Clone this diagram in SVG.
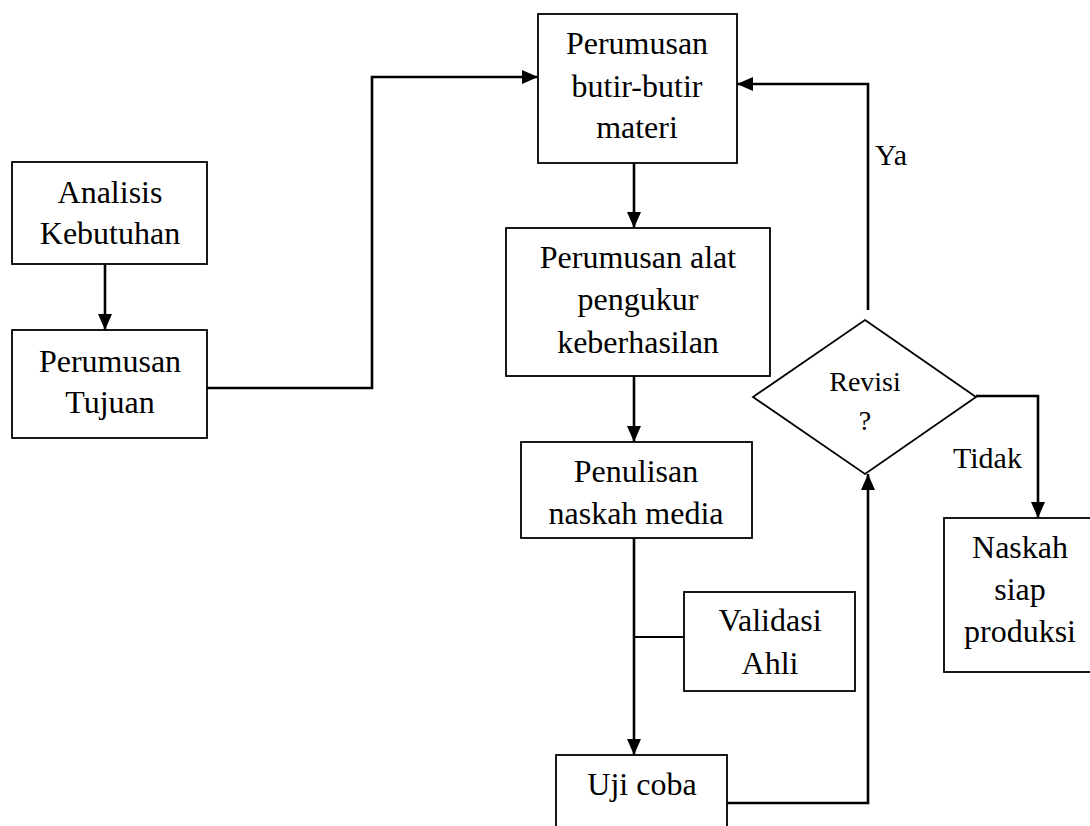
<svg xmlns="http://www.w3.org/2000/svg" width="1090" height="826" viewBox="0 0 1090 826">
<style>
.box{fill:#fff;stroke:#000;stroke-width:1.8}
.t{font-family:"Liberation Serif","Times New Roman",serif;font-size:32px;fill:#000;text-anchor:middle}
.lbl{font-family:"Liberation Serif","Times New Roman",serif;font-size:30px;fill:#000}
.c{fill:none;stroke:#000;stroke-width:2.6}
.thin{fill:none;stroke:#000;stroke-width:1.8}
</style>
<defs>
<marker id="arr" markerUnits="userSpaceOnUse" markerWidth="16" markerHeight="16" viewBox="0 0 16 16" refX="16" refY="8" orient="auto">
<path d="M0,1 L16,8 L0,15 Z" fill="#000"/>
</marker>
</defs>
<rect width="1090" height="826" fill="#fff"/>
<g id="connectors">
<path class="c" d="M105,264 V330" marker-end="url(#arr)"/>
<path class="c" d="M207,388 H372 V77 H538" marker-end="url(#arr)"/>
<path class="c" d="M634,163 V228" marker-end="url(#arr)"/>
<path class="c" d="M634,376 V442" marker-end="url(#arr)"/>
<path class="c" d="M634,538 V755" marker-end="url(#arr)"/>
<path class="thin" d="M634,637 H684"/>
<path class="c" d="M727,803 H868 V474" marker-end="url(#arr)"/>
<path class="c" d="M868,310 V84 H737" marker-end="url(#arr)"/>
<path class="c" d="M976,396 H1038 V518" marker-end="url(#arr)"/>
<text class="lbl" x="875" y="165">Ya</text>
<text class="lbl" x="953" y="468">Tidak</text>
</g>
<g id="analisis">
<rect class="box" x="12" y="162" width="195" height="102"/>
<text class="t" x="110" y="203">Analisis</text>
<text class="t" x="110" y="244">Kebutuhan</text>
</g>
<g id="tujuan">
<rect class="box" x="12" y="330" width="195" height="108"/>
<text class="t" x="110" y="372">Perumusan</text>
<text class="t" x="110" y="413">Tujuan</text>
</g>
<g id="butir">
<rect class="box" x="538" y="14" width="199" height="149"/>
<text class="t" x="637" y="54">Perumusan</text>
<text class="t" x="637" y="97">butir-butir</text>
<text class="t" x="637" y="138">materi</text>
</g>
<g id="alat">
<rect class="box" x="506" y="228" width="264" height="148"/>
<text class="t" x="638" y="268">Perumusan alat</text>
<text class="t" x="638" y="310">pengukur</text>
<text class="t" x="638" y="353">keberhasilan</text>
</g>
<g id="penulisan">
<rect class="box" x="521" y="442" width="231" height="96"/>
<text class="t" x="636" y="482">Penulisan</text>
<text class="t" x="636" y="524">naskah media</text>
</g>
<g id="validasi">
<rect class="box" x="684" y="592" width="171" height="99"/>
<text class="t" x="770" y="631">Validasi</text>
<text class="t" x="770" y="674">Ahli</text>
</g>
<g id="ujicoba">
<rect class="box" x="556" y="755" width="171" height="90"/>
<text class="t" x="642" y="795">Uji coba</text>
</g>
<g id="revisi">
<polygon class="box" points="865,320 976,397 865,474 753,397"/>
<text class="t" x="865" y="391" style="font-size:28px">Revisi</text>
<text class="t" x="865" y="430" style="font-size:28px">?</text>
</g>
<g id="naskah">
<rect class="box" x="944" y="518" width="152" height="154"/>
<text class="t" x="1020" y="558">Naskah</text>
<text class="t" x="1020" y="600">siap</text>
<text class="t" x="1020" y="642">produksi</text>
</g>
</svg>
